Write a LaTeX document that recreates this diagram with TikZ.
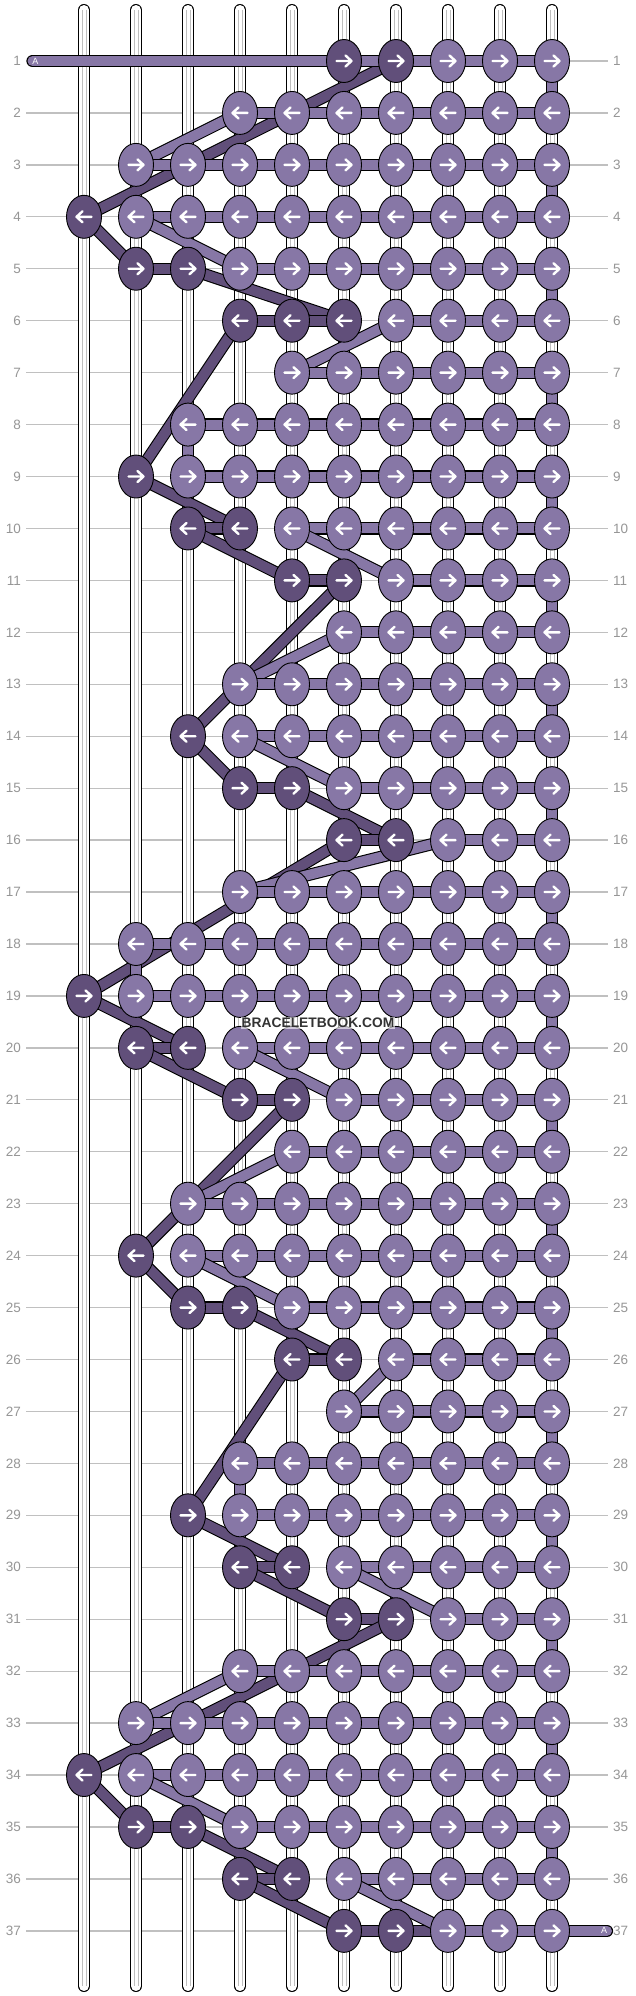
\documentclass[tikz,border=0pt]{standalone}
\usepackage{fontspec}
\setmainfont{Liberation Sans}
\usetikzlibrary{shapes.geometric}
\definecolor{lightk}{RGB}{135,119,166}
\definecolor{darkk}{RGB}{97,79,122}
\definecolor{rowline}{RGB}{192,192,192}
\definecolor{rowlabel}{RGB}{150,150,150}
\definecolor{stripe}{RGB}{190,190,190}
\tikzset{
  knotL/.style={ellipse, draw=black, line width=0.9pt, fill=lightk, minimum width=35pt, minimum height=43pt, inner sep=0pt},
  knotD/.style={knotL, fill=darkk},
  barout/.style={draw=black, line width=12.2pt},
  lbarin/.style={draw=lightk, line width=10pt},
  dbarin/.style={draw=darkk, line width=10pt},
  strandout/.style={draw=black, line width=12pt, line cap=round},
  strandfill/.style={draw=white, line width=10pt, line cap=round},
  strandin/.style={draw=stripe, line width=0.6pt},
  rowln/.style={draw=rowline, line width=1.3pt},
  rowlbl/.style={text=rowlabel, font=\fontsize{13.5}{14}\selectfont, inner sep=0pt},
  arrw/.style={draw=white, line width=2.4pt, line cap=round, line join=round},
  alabel/.style={text=white, font=\fontsize{9}{9}\selectfont, inner sep=0pt}
}
\newcommand\lseg[3][]{\draw[barout,#1] (#2) -- (#3); \draw[lbarin,#1] (#2) -- (#3);}
\newcommand\dseg[2]{\draw[barout] (#1) -- (#2); \draw[dbarin] (#1) -- (#2);}
\newcommand\kArrow[2]{%
  \ifodd#1\relax
    \draw[arrw, shift={(p-#1-#2)}] (-7.5,0) -- (7.5,0) (1.5,-5.5) -- (7.5,0) -- (1.5,5.5);
  \else
    \draw[arrw, shift={(p-#1-#2)}] (7.5,0) -- (-7.5,0) (-1.5,-5.5) -- (-7.5,0) -- (-1.5,5.5);
  \fi}
\begin{document}
\begin{tikzpicture}[x=1pt,y=-1pt]
\useasboundingbox (0,0) rectangle (636,1996);
\fill[white] (0,0) rectangle (636,1996);
% grid coordinates
\foreach \r in {1,...,37}{
  \foreach \c in {1,...,10}{
    \coordinate (p-\r-\c) at ({84+52*(\c-1)},{61+51.94*(\r-1)});
  }
}
% row lines and labels
\foreach \r in {1,...,37}{
  \coordinate (gl-\r) at (26,{61+51.94*(\r-1)});
  \coordinate (gr-\r) at (608,{61+51.94*(\r-1)});
  \draw[rowln] (gl-\r) -- (gr-\r);
  \node[rowlbl, anchor=east] (ll-\r) at (21,{61+51.94*(\r-1)}) {\r};
  \node[rowlbl, anchor=west] (lr-\r) at (613,{61+51.94*(\r-1)}) {\r};
}
% base strings
\foreach \c in {1,...,10}{
  \coordinate (st-\c) at ({84+52*(\c-1)},10);
  \coordinate (sb-\c) at ({84+52*(\c-1)},1986);
  \draw[strandout] (st-\c) -- (sb-\c);
  \draw[strandfill] (st-\c) -- (sb-\c);
  \draw[strandin] ([xshift=-1.8pt]st-\c) -- ([xshift=-1.8pt]sb-\c);
  \draw[strandin] ([xshift=1.8pt]st-\c) -- ([xshift=1.8pt]sb-\c);
}
% dark string
\foreach \a/\b in {1-6/1-7, 1-7/4-1, 4-1/5-2, 5-2/5-3, 5-3/6-6, 6-6/6-5, 6-5/6-4, 6-4/9-2,
  9-2/10-4, 10-4/10-3, 10-3/11-5, 11-5/11-6, 11-6/14-3, 14-3/15-4, 15-4/15-5, 15-5/16-7,
  16-7/16-6, 16-6/19-1, 19-1/20-3, 20-3/20-2, 20-2/21-4, 21-4/21-5, 21-5/24-2, 24-2/25-3,
  25-3/25-4, 25-4/26-6, 26-6/26-5, 26-5/29-3, 29-3/30-5, 30-5/30-4, 30-4/31-6, 31-6/31-7,
  31-7/34-1, 34-1/35-2, 35-2/35-3, 35-3/36-5, 36-5/36-4, 36-4/37-6, 37-6/37-7, 37-7/37-8}{
  \dseg{p-\a}{p-\b}
}
% light string
\coordinate (aL) at (32.5,61);
\coordinate (aR) at (607,{61+51.94*36});
\lseg[line cap=round]{aL}{p-1-8}
\foreach \r/\L/\N in {1/8/4, 2/4/2, 3/2/2, 4/2/4, 5/4/7, 6/7/5, 7/5/3, 8/3/3, 9/3/5, 10/5/7,
  11/7/6, 12/6/4, 13/4/4, 14/4/6, 15/6/8, 16/8/4, 17/4/2, 18/2/2, 19/2/4, 20/4/6, 21/6/5,
  22/5/3, 23/3/3, 24/3/5, 25/5/7, 26/7/6, 27/6/4, 28/4/4, 29/4/6, 30/6/8, 31/8/4, 32/4/2,
  33/2/2, 34/2/4, 35/4/6, 36/6/8, 37/8/0}{
  \pgfmathtruncatemacro\rn{\r+1}
  \pgfmathtruncatemacro\Lp{\L+1}
  \ifodd\r\relax
    \foreach \c in {\L,...,9}{
      \pgfmathtruncatemacro\cn{\c+1}
      \lseg{p-\r-\c}{p-\r-\cn}
    }
    \ifnum\r<37\relax
      \lseg{p-\r-10}{p-\rn-10}
    \fi
  \else
    \foreach \c in {10,...,\Lp}{
      \pgfmathtruncatemacro\cm{\c-1}
      \lseg{p-\r-\c}{p-\r-\cm}
    }
    \lseg{p-\r-\L}{p-\rn-\N}
  \fi
}
\lseg[line cap=round]{p-37-10}{aR}
\node[alabel] (tA1) at (35.5,61) {A};
\node[alabel] (tA2) at (604,{61+51.94*36}) {A};
% light knots
\foreach \r/\L in {1/8, 2/4, 3/2, 4/2, 5/4, 6/7, 7/5, 8/3, 9/3, 10/5, 11/7, 12/6, 13/4, 14/4,
  15/6, 16/8, 17/4, 18/2, 19/2, 20/4, 21/6, 22/5, 23/3, 24/3, 25/5, 26/7, 27/6, 28/4, 29/4,
  30/6, 31/8, 32/4, 33/2, 34/2, 35/4, 36/6, 37/8}{
  \foreach \c in {\L,...,10}{
    \node[knotL] (k-\r-\c) at (p-\r-\c) {};
    \kArrow{\r}{\c}
  }
}
% dark knots
\foreach \r/\c in {1/6, 1/7, 4/1, 5/2, 5/3, 6/4, 6/5, 6/6, 9/2, 10/3, 10/4, 11/5, 11/6, 14/3,
  15/4, 15/5, 16/6, 16/7, 19/1, 20/2, 20/3, 21/4, 21/5, 24/2, 25/3, 25/4, 26/5, 26/6, 29/3,
  30/4, 30/5, 31/6, 31/7, 34/1, 35/2, 35/3, 36/4, 36/5, 37/6, 37/7}{
  \node[knotD] (k-\r-\c) at (p-\r-\c) {};
  \kArrow{\r}{\c}
}
% watermark
\node[font=\bfseries\fontsize{13.8}{14}\selectfont, text=black!80, fill=white, fill opacity=0.6, text opacity=1, inner sep=1pt] (wm) at (318,1023) {BRACELETBOOK.COM};
\end{tikzpicture}
\end{document}
